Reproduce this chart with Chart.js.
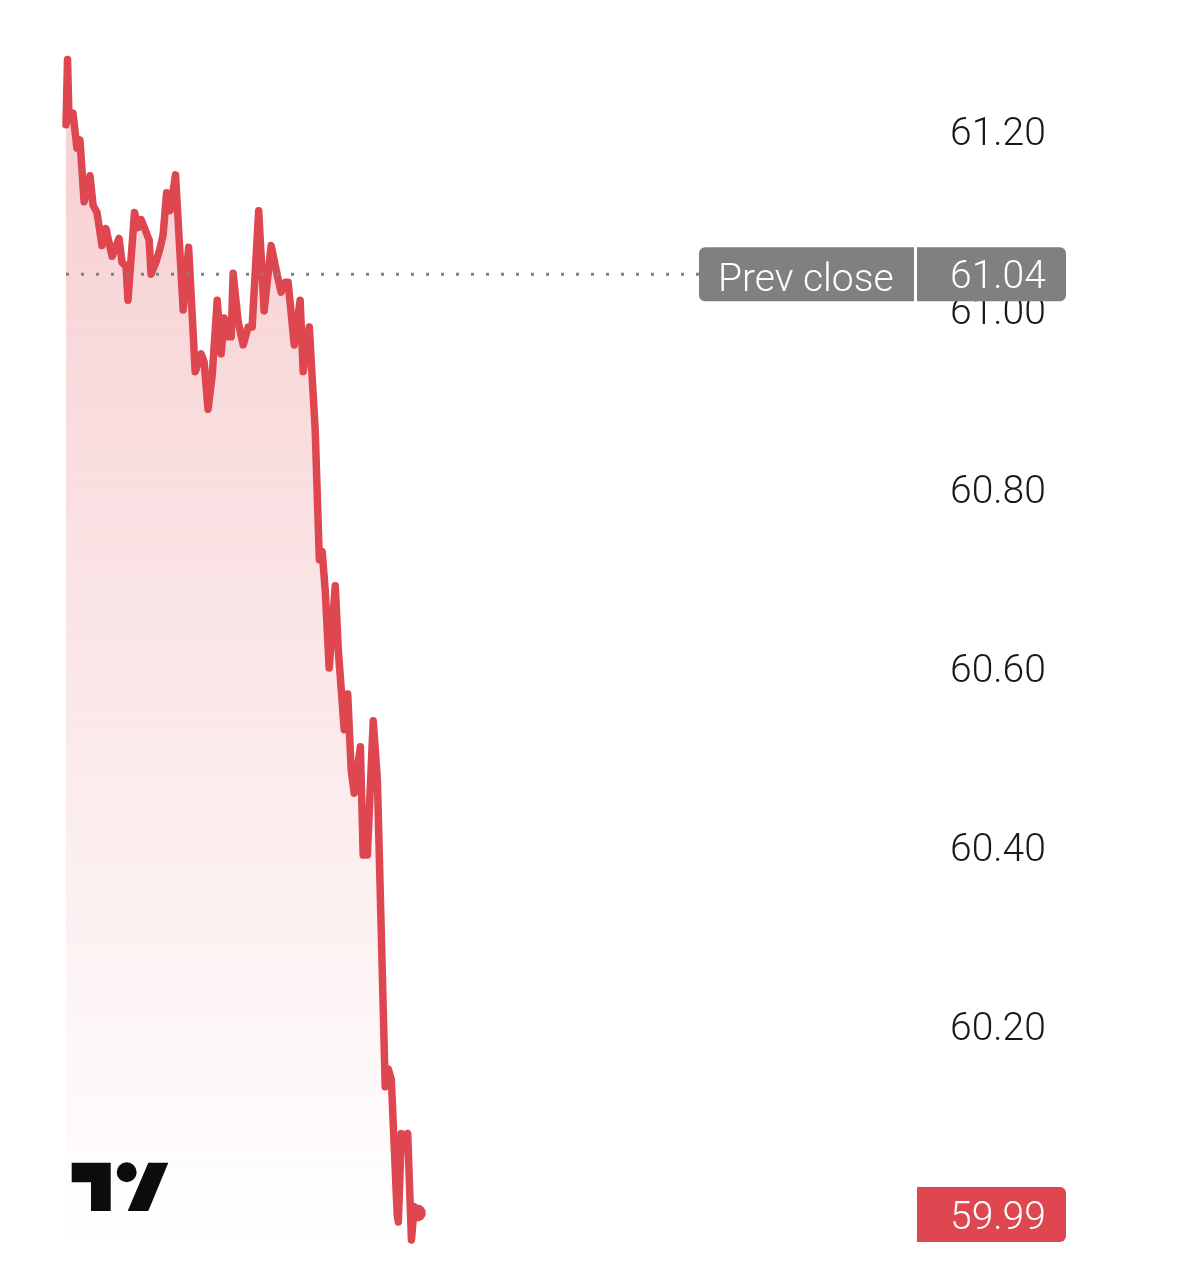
<!DOCTYPE html>
<html>
<head>
<meta charset="utf-8">
<title>Price chart</title>
<script src="https://cdn.jsdelivr.net/npm/chart.js@4"></script>
<style>
  html, body { margin: 0; padding: 0; background: #fff; }
  canvas { display: block; }
</style>
</head>
<body>
<canvas id="priceChart" width="1200" height="1278"></canvas>
<script>
// minutes since the open
const minutes = [
  0, 0.7, 1.4, 3.2, 5.0, 6.4, 8.3, 11.0, 12.4, 14.2,
  16.5, 18.3, 21.1, 24.3, 25.7, 27.5, 28.4, 31.4, 33.0, 34.4,
  36.7, 38.1, 39.0, 41.3, 43.1, 44.5, 46.1, 47.7, 50.2, 53.7,
  56.2, 59.2, 61.9, 63.3, 65.1, 67.0, 69.3, 71.1, 72.5, 74.3,
  75.7, 76.6, 78.9, 81.2, 83.5, 85.3, 88.3, 90.8, 94.0, 96.8,
  98.6, 100.5, 101.8, 104.6, 107.3, 108.7, 111.5, 114.2, 116.1, 117.4,
  118.8, 120.6, 123.4, 124.8, 127.5, 129.1, 130.7, 132.1, 134.9, 136.2,
  138.1, 140.8, 142.7, 146.3, 147.7, 149.1, 150.5, 151.8, 152.3, 153.7,
  155.0, 156.6, 158.3, 159.6, 161.0
];
const prices = [
  61.207, 61.280, 61.212, 61.220, 61.181, 61.190, 61.121, 61.150, 61.117, 61.109,
  61.072, 61.091, 61.060, 61.080, 61.053, 61.049, 61.011, 61.109, 61.092, 61.101,
  61.087, 61.078, 61.040, 61.054, 61.069, 61.084, 61.131, 61.111, 61.151, 61.000,
  61.070, 60.931, 60.951, 60.942, 60.889, 60.927, 61.011, 60.951, 60.991, 60.970,
  60.970, 61.041, 60.987, 60.961, 60.981, 60.981, 61.111, 60.999, 61.072, 61.039,
  61.020, 61.031, 61.031, 60.961, 61.011, 60.931, 60.981, 60.866, 60.721, 60.730,
  60.687, 60.600, 60.692, 60.620, 60.531, 60.571, 60.486, 60.460, 60.512, 60.391,
  60.391, 60.541, 60.475, 60.132, 60.152, 60.140, 60.061, 59.989, 59.981, 60.080,
  60.075, 60.080, 59.961, 59.998, 59.991
];
const tickValues = [60.20, 60.40, 60.60, 60.80, 61.00, 61.20];
const prevClose = 61.04;
const prevCloseLabel = 'Prev close';
const lastPrice = 59.99;
const prevCloseSpan = [0, 290.8];

const RED = '#de4650';
const GREY = '#808080';
const TEXT_FONT = '300 39px Roboto';

function roundedBox(ctx, x, y, w, h, radii, color) {
  ctx.fillStyle = color;
  ctx.beginPath();
  ctx.roundRect(x, y, w, h, radii);
  ctx.fill();
}

function boxText(ctx, text, x, y) {
  ctx.fillStyle = '#fff';
  ctx.font = TEXT_FONT;
  ctx.textAlign = 'left';
  ctx.textBaseline = 'middle';
  ctx.fillText(text, x, y);
}

// price tags on the right and the logo, drawn over the axis labels
const overlay = {
  id: 'overlay',
  afterDraw(chart) {
    const ctx = chart.ctx;
    const yScale = chart.scales.y;
    const prevY = yScale.getPixelForValue(prevClose);
    const lastY = yScale.getPixelForValue(lastPrice);
    ctx.save();

    roundedBox(ctx, 699, prevY - 27, 215, 54, [6, 0, 0, 6], GREY);
    roundedBox(ctx, 917, prevY - 27, 149, 54, [0, 6, 6, 0], GREY);
    boxText(ctx, prevCloseLabel, 718, prevY + 7);
    boxText(ctx, prevClose.toFixed(2), 950, prevY + 4);

    roundedBox(ctx, 917, lastY - 27, 149, 55, [0, 6, 6, 0], RED);
    boxText(ctx, lastPrice.toFixed(2), 950, lastY + 5);

    // watermark
    ctx.fillStyle = '#0c0c0c';
    ctx.beginPath();
    ctx.moveTo(71.7, 1162.7);
    ctx.lineTo(110.7, 1162.7);
    ctx.lineTo(110.7, 1211);
    ctx.lineTo(91, 1211);
    ctx.lineTo(91, 1182.3);
    ctx.lineTo(71.7, 1182.3);
    ctx.closePath();
    ctx.moveTo(148.3, 1162.7);
    ctx.lineTo(168.3, 1162.7);
    ctx.lineTo(148.3, 1211);
    ctx.lineTo(127.7, 1211);
    ctx.closePath();
    ctx.moveTo(136.7, 1172.3);
    ctx.arc(126.7, 1172.3, 10, 0, Math.PI * 2);
    ctx.fill();
    ctx.restore();
  }
};

new Chart(document.getElementById('priceChart'), {
  type: 'line',
  data: {
    datasets: [
      {
        label: 'Price',
        data: minutes.map((m, i) => ({ x: m, y: prices[i] })),
        order: 1,
        borderColor: RED,
        borderWidth: 7.5,
        borderJoinStyle: 'round',
        borderCapStyle: 'round',
        tension: 0,
        fill: 'start',
        backgroundColor(c) {
          const area = c.chart.chartArea;
          if (!area) return 'transparent';
          const g = c.chart.ctx.createLinearGradient(0, area.top, 0, area.bottom);
          g.addColorStop(0, 'rgba(224, 74, 83, 0.28)');
          g.addColorStop(1, 'rgba(224, 74, 83, 0)');
          return g;
        },
        clip: false,
        pointRadius: c => (c.dataIndex === minutes.length - 1 ? 8.5 : 0),
        pointBackgroundColor: RED,
        pointBorderWidth: 0
      },
      {
        label: prevCloseLabel,
        data: prevCloseSpan.map(m => ({ x: m, y: prevClose })),
        order: 0,
        borderColor: GREY,
        borderWidth: 3,
        borderDash: [3, 12],
        borderCapStyle: 'butt',
        pointRadius: 0,
        fill: false
      }
    ]
  },
  options: {
    responsive: false,
    animation: false,
    devicePixelRatio: 1,
    layout: { padding: { left: 66, top: 40, right: 0, bottom: 34 } },
    plugins: { legend: { display: false }, tooltip: { enabled: false } },
    scales: {
      x: { type: 'linear', min: 0, max: 390, display: false },
      y: {
        position: 'right',
        min: 59.9564,
        max: 61.3017,
        // keep the plot height fixed, the labels are well inside it
        afterFit(s) { s.width = 283; s.paddingTop = 0; s.paddingBottom = 0; },
        afterBuildTicks(s) { s.ticks = tickValues.map(v => ({ value: v })); },
        grid: { display: false, drawTicks: false },
        border: { display: false },
        ticks: {
          padding: 33,
          labelOffset: 4,
          color: '#16181d',
          font: { family: 'Roboto', size: 39, weight: '300' },
          callback: v => v.toFixed(2)
        }
      }
    }
  },
  plugins: [overlay]
});
</script>
</body>
</html>
